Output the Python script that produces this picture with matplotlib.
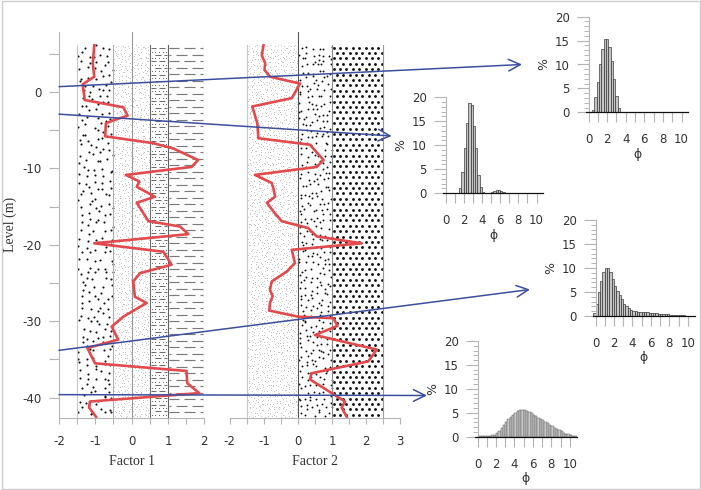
import numpy as np
import matplotlib
matplotlib.use('Agg')
import matplotlib.pyplot as plt
from matplotlib.collections import LineCollection
from matplotlib.patches import Rectangle

plt.rcParams['axes.unicode_minus'] = False
plt.rcParams['font.family'] = ['DejaVu Sans']

# ---------------- data ----------------
level_major = [0, -10, -20, -30, -40]
level_minor = [5, -5, -15, -25, -35]
factor1_ticks = [-2, -1, 0, 1, 2]
factor2_ticks = [-2, -1, 0, 1, 2, 3]

f1_level = [6.1, 3.75, 2.0, 1.0, -1.05, -2.0, -3.1, -3.7, -4.1, -5.8, -6.7, -7.4,
            -8.9, -9.8, -10.85, -11.7, -12.4, -13.7, -14.5, -16.9, -17.6, -18.6,
            -19.8, -20.9, -22.6, -23.7, -24.8, -26.8, -27.6, -29.4, -30.7, -32.4,
            -33.5, -35.5, -36.5, -38.1, -39.4, -40.5, -41.3, -42.5]
f1_value = [-1.03, -1.07, -1.03, -1.35, -1.29, -0.23, -0.11, -0.5, -0.71, -0.73, 0.6, 1.15,
            1.83, 1.65, -0.16, 0.21, 0.14, 0.64, 0.14, 0.46, 1.33, 1.56,
            -1.03, 0.87, 1.1, 0.23, 0.04, 0.09, 0.41, -0.23, -0.55, -0.37,
            -1.22, -1.01, 1.51, 1.53, 1.86, -1.15, -1.17, -0.98]

f2_level = [6.1, 4.8, 3.75, 2.9, 2.0, 1.1, -0.8, -1.9, -4.1, -6.05, -6.9, -8.9, -9.8,
            -10.85, -11.9, -12.6, -13.7, -14.5, -15.9, -16.9, -17.8, -18.9, -19.8,
            -20.65, -22.4, -23.5, -24.8, -25.9, -26.7, -27.6, -28.6, -29.4, -29.6,
            -30.6, -31.8, -33.7, -35.25, -36.8, -37.6, -39.4, -40.5, -41.3, -42.5]
f2_value = [-1.01, -1.06, -0.96, -0.98, -0.82, 0.06, -0.18, -1.34, -1.19, -1.16, 0.35, 0.75, 0.55,
            -1.26, -0.77, -0.72, -0.67, -0.91, -0.67, -0.48, 0.3, 0.55, 1.87,
            -0.18, -0.09, -0.33, -0.77, -0.82, -0.74, -0.82, -0.84, 0.01, 1.04,
            1.16, 0.5, 2.31, 2.06, 0.4, 0.35, 0.99, 1.38, 1.28, 1.43]

# grain-size histograms (% per 0.25 phi class)
phi_bin = 0.25
h1_start = 0.375
h1_pct = [0.5, 3.3, 6.3, 10.0, 13.2, 15.3, 15.3, 13.7, 10.7, 6.9, 3.4, 1.0]
h2_start = 1.5
h2_pct = [1.0, 4.5, 9.4, 14.7, 18.75, 18.3, 14.0, 9.4, 3.8, 1.25, 0.2, 0.05, 0.0, 0.05,
          0.2, 0.5, 0.7, 0.7, 0.5, 0.3, 0.1, 0.05, 0.1, 0.1, 0.1, 0.1, 0.1, 0.1,
          0.1, 0.1, 0.1, 0.1, 0.1, 0.1, 0.08]
h3_start = -0.25
h3_pct = [0.55, 2.6, 4.9, 7.3, 9.2, 9.9, 10.1, 9.2, 7.8, 6.25, 5.3, 4.4, 3.5, 2.6, 2.1,
          1.6, 1.25, 1.0, 0.95, 0.9, 0.88, 0.85, 0.8, 0.75, 0.72, 0.68, 0.62, 0.58,
          0.52, 0.48, 0.42, 0.38, 0.34, 0.3, 0.27, 0.24, 0.21, 0.18, 0.15, 0.12,
          0.1, 0.08, 0.05]
h4_start = 0.0
h4_pct = [0.05, 0.08, 0.1, 0.15, 0.2, 0.25, 0.3, 0.45, 0.7, 1.2, 1.8, 2.5, 3.1, 3.7,
          4.2, 4.6, 5.0, 5.3, 5.5, 5.6, 5.55, 5.35, 5.1, 4.85, 4.6, 4.3, 4.0, 3.7,
          3.4, 3.1, 2.8, 2.5, 2.2, 1.9, 1.6, 1.35, 1.1, 0.85, 0.65, 0.5, 0.35,
          0.22, 0.12]
phi_ticks = list(range(0, 11))
pct_ticks = [0, 5, 10, 15, 20]

# sample levels linked to histograms
arrow_levels = [0.7, -2.9, -33.8, -39.6]

# ---------------- layout ----------------
W, H = 701, 490
fig = plt.figure(figsize=(W / 100, H / 100), dpi=100)
fig.patch.set_facecolor('white')


def add_px_axes(l, t, r, b):
    return fig.add_axes([l / W, 1 - b / H, (r - l) / W, (b - t) / H])


YLIM = (-42.59, 7.85)
COL_TOP = 6.15
AX_T, AX_B = 32, 417.5
PPY = (AX_B - AX_T) / (YLIM[1] - YLIM[0])

ax1 = add_px_axes(59, AX_T, 204.3, AX_B)
ax2 = add_px_axes(229.7, AX_T, 400.3, AX_B)
ax1.set_xlim(-2, 2)
ax2.set_xlim(-2, 3)
PPX1 = (204.3 - 59) / 4
PPX2 = (400.3 - 229.7) / 5
TICKC = '#b5b5b5'
LABC = '#333333'

for ax in (ax1, ax2):
    ax.set_ylim(*YLIM)
    ax.patch.set_alpha(0)
    for s in ('top', 'right'):
        ax.spines[s].set_visible(False)
    ax.spines['bottom'].set_color(TICKC)
    ax.spines['left'].set_color(TICKC)
    ax.tick_params(axis='x', which='both', length=4.3, width=0.8, color=TICKC,
                   labelsize=8.5, labelcolor=LABC, pad=8)

ax1.set_xticks(factor1_ticks)
ax1.set_xticks([-1.5, -0.5, 0.5, 1.5], minor=True)
ax2.set_xticks(factor2_ticks)
ax2.set_xticks([-1.5, -0.5, 0.5, 1.5, 2.5], minor=True)
ax1.set_yticks(level_major)
ax1.set_yticks(level_minor, minor=True)
ax1.tick_params(axis='y', which='both', length=7.2, width=0.8, color=TICKC,
                labelsize=8.5, labelcolor=LABC, pad=5.5)
ax2.spines['left'].set_visible(False)
ax2.set_yticks([])

serif = ['Liberation Serif', 'DejaVu Serif']
ax1.set_xlabel('Factor 1', family=serif, fontsize=10, color=LABC, labelpad=5)
ax2.set_xlabel('Factor 2', family=serif, fontsize=10, color=LABC, labelpad=5)
ax1.set_ylabel('Level (m)', family=serif, fontsize=10, color=LABC, labelpad=4)


# ---------------- textures ----------------
def frac_hash(a, b, salt):
    v = np.sin(a * 12.9898 + b * 78.233 + salt * 4.1414) * 43758.5453
    return v - np.floor(v)


HPX = (COL_TOP - YLIM[0]) * PPY


def stipple(ax, x0, x1, ppx, sp, s, color, jit, salt):
    wpx = (x1 - x0) * ppx
    nx = max(1, int(round(wpx / sp)))
    ny = int(round(HPX / sp))
    i, j = np.meshgrid(np.arange(nx), np.arange(ny))
    fx = (i + 0.5 + (frac_hash(i, j, salt) - 0.5) * 2 * jit) / nx
    fy = (j + 0.5 + (frac_hash(i, j, salt + 7.3) - 0.5) * 2 * jit) / ny
    ax.scatter(x0 + fx.ravel() * (x1 - x0), YLIM[0] + fy.ravel() * (COL_TOP - YLIM[0]),
               s=s, c=color, linewidths=0, zorder=1)


def hexdots(ax, x0, x1, ppx, spx, spy, s, color):
    wpx = (x1 - x0) * ppx
    nx = int(round(wpx / spx))
    ny = int(round(HPX / spy))
    i, j = np.meshgrid(np.arange(nx), np.arange(ny))
    fx = (i + 0.25 + 0.5 * (j % 2)) / nx
    fy = (j + 0.5) / ny
    ax.scatter(x0 + fx.ravel() * (x1 - x0), YLIM[0] + fy.ravel() * (COL_TOP - YLIM[0]),
               s=s, c=color, linewidths=0, zorder=1)


def dash_rows(ax, x0, x1, ppx, row_sp, dash, gap, shift, color, lw, y_off=0.0):
    segs = []
    wpx = (x1 - x0) * ppx
    nrows = int(HPX / row_sp)
    for r in range(nrows):
        y = COL_TOP - ((r + 0.5) * row_sp + y_off) / PPY
        p = -(r % 2) * shift
        while p < wpx:
            a = max(p, 1.2)
            b = min(p + dash, wpx - 1.2)
            if b - a > 1.5:
                segs.append([(x0 + a / ppx, y), (x0 + b / ppx, y)])
            p += dash + gap
    ax.add_collection(LineCollection(segs, colors=color, linewidths=lw, zorder=1))


def dot_rows(ax, x0, x1, ppx, row_sp, dsp, s, color, y_off):
    wpx = (x1 - x0) * ppx
    nrows = int(HPX / row_sp)
    nx = int(wpx / dsp)
    xs, ys = [], []
    for r in range(nrows):
        y = COL_TOP - ((r + 0.5) * row_sp + y_off) / PPY
        for k in range(nx):
            xs.append(x0 + ((k + 0.5) * wpx / nx) / ppx)
            ys.append(y)
    ax.scatter(xs, ys, s=s, c=color, linewidths=0, zorder=1)


def vline(ax, x, top, color, lw=0.8):
    ax.plot([x, x], [YLIM[0], top], color=color, lw=lw, zorder=2)


# Factor 1 columns
stipple(ax1, -1.5, -0.5, PPX1, 7.0, 2.3, '#111111', 0.45, 1.0)
stipple(ax1, -0.5, 0.5, PPX1, 3.2, 0.22, '#9a9a9a', 0.45, 2.0)
dash_rows(ax1, 0.5, 1.0, PPX1, 6.6, 6.0, 3.0, 3.5, '#6a6a6a', 0.7)
dot_rows(ax1, 0.5, 1.0, PPX1, 6.6, 3.4, 0.6, '#555555', 3.3)
dash_rows(ax1, 1.0, 2.0, PPX1, 6.5, 11, 5, 8, '#7a7a7a', 0.85)
vline(ax1, -1.5, COL_TOP, '#c8c8c8')
vline(ax1, -0.5, COL_TOP, '#b0b0b0')
vline(ax1, 0.0, YLIM[1], '#9a9a9a')
vline(ax1, 0.5, COL_TOP, '#707070')
vline(ax1, 1.0, COL_TOP, '#606060')
vline(ax1, 2.0, COL_TOP, '#7a7a7a')

# Factor 2 columns
stipple(ax2, -1.5, 0.0, PPX2, 3.2, 0.22, '#9a9a9a', 0.45, 3.0)
stipple(ax2, 0.0, 1.0, PPX2, 6.0, 1.9, '#111111', 0.45, 4.0)
hexdots(ax2, 1.0, 2.5, PPX2, 6.6, 5.4, 4.2, '#111111')
vline(ax2, -1.5, COL_TOP, '#c8c8c8')
vline(ax2, 0.0, YLIM[1], '#555555')
vline(ax2, 1.0, COL_TOP, '#8a8a8a')
vline(ax2, 2.5, COL_TOP, '#9a9a9a')

# curves
RED = '#e24a4d'
ax1.plot(f1_value, f1_level, color=RED, lw=1.9, zorder=5, solid_joinstyle='round')
ax2.plot(f2_value, f2_level, color=RED, lw=1.9, zorder=5, solid_joinstyle='round')
ax1.set_ylim(*YLIM)
ax2.set_ylim(*YLIM)

# ---------------- histograms ----------------
XL = (-0.3, 10.75)
hist_specs = [
    (588.5, 9.3, 16.7, 112.3, h1_start, h1_pct),
    (445.5, 9.1, 97.3, 193.3, h2_start, h2_pct),
    (595.5, 9.23, 220.0, 316.0, h3_start, h3_pct),
    (477.5, 9.23, 341.0, 436.7, h4_start, h4_pct),
]
for k, (p0, sc, top, bot, start, pct) in enumerate(hist_specs):
    hx = add_px_axes(p0 + XL[0] * sc, top, p0 + XL[1] * sc, bot)
    hx.set_xlim(*XL)
    hx.set_ylim(0, 20)
    edges = start + phi_bin * np.arange(len(pct))
    if k == 3:
        hx.bar(edges, pct, width=phi_bin, align='edge', color='#c8c8c8',
               edgecolor='#5a5a5a', linewidth=0.35)
    else:
        hx.bar(edges, pct, width=phi_bin, align='edge', color='#c4c4c4',
               edgecolor='#2a2a2a', linewidth=0.45)
    for s in ('top', 'right'):
        hx.spines[s].set_visible(False)
    hx.spines['left'].set_position(('data', 0))
    hx.spines['left'].set_color(TICKC)
    hx.spines['bottom'].set_color('#111111')
    hx.spines['bottom'].set_linewidth(0.9)
    hx.set_xticks(phi_ticks)
    hx.set_xticklabels([str(v) if v % 2 == 0 else '' for v in phi_ticks])
    hx.set_yticks(pct_ticks)
    hx.set_yticks(range(0, 21), minor=True)
    hx.tick_params(axis='x', length=7.2, width=0.8, color=TICKC, labelsize=8.5,
                   labelcolor=LABC, pad=8)
    hx.tick_params(axis='y', which='major', length=9.0, width=0.8, color=TICKC,
                   labelsize=8.5, labelcolor=LABC, pad=4.5)
    hx.tick_params(axis='y', which='minor', length=3.8, width=0.7, color=TICKC)
    hx.set_xlabel('ϕ', fontsize=9, color=LABC, labelpad=1)
    hx.set_ylabel('%', fontsize=9, color=LABC, labelpad=3)
    hx.patch.set_alpha(0)

# ---------------- arrows ----------------
arrow_tips = [(522, 64.5), (391.7, 136.0), (530, 289.5), (427, 395.5)]
ax1.set_zorder(10)
BLUE = '#3c4ea0'
for lvl, (tx, ty) in zip(arrow_levels, arrow_tips):
    ax1.annotate('', xy=(tx, H - ty), xycoords='figure pixels',
                 xytext=(-2, lvl), textcoords='data',
                 arrowprops=dict(arrowstyle='->,head_length=0.85,head_width=0.42',
                                 color=BLUE, lw=1.1, shrinkA=0, shrinkB=0),
                 zorder=8, annotation_clip=False)

# figure frame
fig.add_artist(Rectangle((1.5 / W, 1.5 / H), (W - 3) / W, (H - 3) / H,
                         transform=fig.transFigure, fill=False,
                         edgecolor='#cccccc', lw=1.0))

fig.savefig('out.png', dpi=100)
